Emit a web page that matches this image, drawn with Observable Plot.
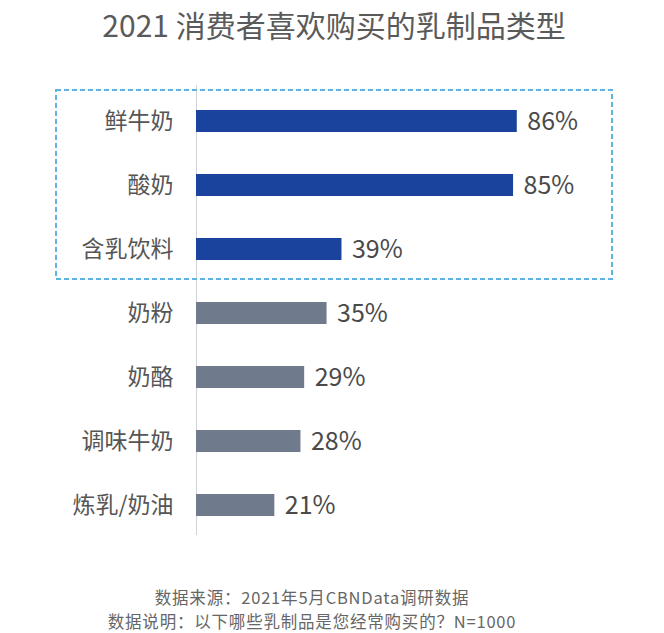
<!DOCTYPE html>
<html>
<head>
<meta charset="utf-8">
<script src="https://cdn.jsdelivr.net/npm/d3@7"></script>
<script src="https://cdn.jsdelivr.net/npm/@observablehq/plot@0.6"></script>
<style>
  html, body { margin: 0; padding: 0; background: #fff; }
  #wrap { position: relative; width: 664px; height: 633px; overflow: hidden;
          font-family: "Noto Sans CJK SC", "Noto Sans", sans-serif; }
  #title { position: absolute; left: 0; width: 664px; padding-left: 4px; box-sizing: border-box;
           top: 2px; text-align: center; white-space: nowrap;
           font-size: 30px; color: #5a5a5a; line-height: 44px; }
  #foot { position: absolute; left: 0; width: 624px; top: 585px; text-align: center;
          font-size: 16.5px; letter-spacing: 0.8px; color: #666; line-height: 24px; }
  #chart { position: absolute; left: 0; top: 0; }
</style>
</head>
<body>
<div id="wrap">
  <div id="chart"></div>
  <div id="title"></div>
  <div id="foot"></div>
</div>
<script>
const titleText = "2021 消费者喜欢购买的乳制品类型";
const footLines = ["数据来源：2021年5月CBNData调研数据", "数据说明：以下哪些乳制品是您经常购买的？N=1000"];
const categories = ["鲜牛奶", "酸奶", "含乳饮料", "奶粉", "奶酪", "调味牛奶", "炼乳/奶油"];
const values = [86, 85, 39, 35, 29, 28, 21];
const highlighted = ["鲜牛奶", "酸奶", "含乳饮料"];

const data = categories.map((c, i) => ({ cat: c, v: values[i], hi: highlighted.includes(c) }));

document.getElementById("title").textContent = titleText;
document.getElementById("foot").innerHTML = footLines.map(s => `<div>${s}</div>`).join("");

const chart = Plot.plot({
  width: 664,
  height: 633,
  marginLeft: 196,
  marginRight: 95,
  marginTop: 67,
  marginBottom: 74,
  style: { fontFamily: '"Noto Sans CJK SC", "Noto Sans", sans-serif', background: "transparent" },
  x: { domain: [0, 100], axis: null },
  y: { domain: categories, padding: 0.658, label: null },
  marks: [
    Plot.ruleX([0], { stroke: "#d0d4da", strokeWidth: 1, insetTop: 18, insetBottom: 24 }),
    Plot.barX(data, { x: "v", y: "cat", fill: d => d.hi ? "#1a439d" : "#6f7a8d" }),
    Plot.text(data, { x: "v", y: "cat", text: d => d.v + "%", textAnchor: "start", dx: 10,
                      fontSize: 25, fill: "#4a4a4a" }),
    Plot.axisY({ tickSize: 0, tickPadding: 23, fontSize: 23, color: "#555" })
  ]
});

// dashed highlight box around the highlighted bands, derived from the y scale
const ys = chart.scale("y");
const svg = d3.select(chart);
const firstTop = ys.apply(highlighted[0]);
const lastBottom = ys.apply(highlighted[highlighted.length - 1]) + ys.bandwidth;
svg.append("rect")
  .attr("x", 56).attr("width", 556)
  .attr("y", firstTop - 20).attr("height", lastBottom - firstTop + 39)
  .attr("fill", "none")
  .attr("stroke", "#5cb3e4")
  .attr("stroke-width", 2)
  .attr("stroke-dasharray", "5,3");

document.getElementById("chart").appendChild(chart);
</script>
</body>
</html>
